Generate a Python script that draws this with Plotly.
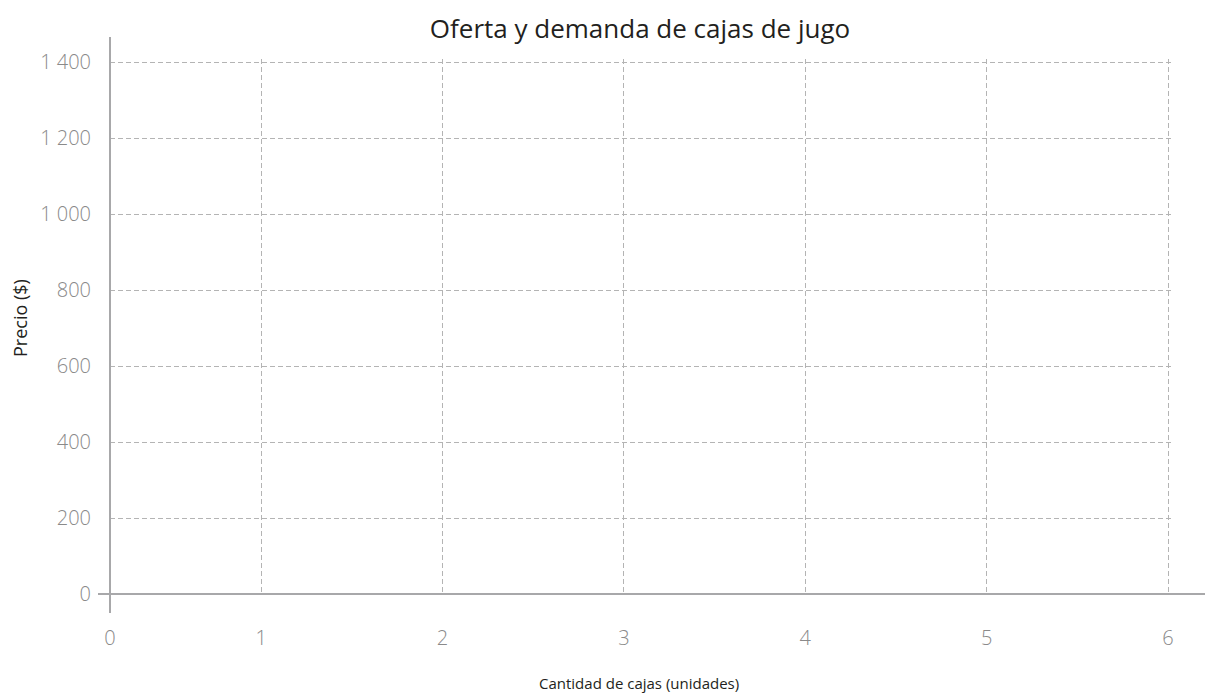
import plotly.graph_objects as go

# Data (the reference chart is an empty grid: no series plotted)
x_tick_vals = [1/6, 1, 2, 3, 4, 5, 6]
x_tick_text = ["0", "1", "2", "3", "4", "5", "6"]
y_tick_vals = [0, 200, 400, 600, 800, 1000, 1200, 1400]
y_tick_text = ["0", "200", "400", "600", "800", "1 000", "1 200", "1 400"]
title_text = "Oferta y demanda de cajas de jugo"
x_title = "Cantidad de cajas (unidades)"
y_title = "Precio ($)"

W, H = 1212, 695
# pixel positions of the data frame
X_LEFT, X_RIGHT = 110, 1168   # x = 1/6 .. 6
Y_BOTTOM, Y_TOP = 594, 62     # y = 0 .. 1400

# extend ranges slightly so edge gridlines get drawn
x_px_per = (X_RIGHT - X_LEFT) / (x_tick_vals[-1] - x_tick_vals[0])
y_px_per = (Y_BOTTOM - Y_TOP) / (y_tick_vals[-1] - y_tick_vals[0])
x_ext = 3 / x_px_per
y_ext = 3 / y_px_per

L, R = X_LEFT, W - (X_RIGHT + 3)
T, B = Y_TOP - 3, H - Y_BOTTOM
pw, ph = W - L - R, H - T - B

grid_color = "#b4b4b4"
axis_color = "#a8a8aa"
tick_color = "#8a8a8a"
text_color = "#231f20"

fig = go.Figure()
fig.add_trace(go.Scatter(x=[], y=[], mode="lines", showlegend=False))

fig.update_layout(
    width=W, height=H,
    margin=dict(l=L, r=R, t=T, b=B, pad=0, autoexpand=False),
    paper_bgcolor="white", plot_bgcolor="white",
    showlegend=False,
    title=dict(text=title_text, x=640 / W, xanchor="center",
               y=1 - 29 / H, yanchor="middle",
               font=dict(family="Open Sans", size=26, color=text_color)),
    font=dict(family="Open Sans"),
)

fig.update_xaxes(
    range=[x_tick_vals[0], x_tick_vals[-1] + x_ext],
    tickmode="array", tickvals=x_tick_vals, ticktext=x_tick_text,
    showgrid=True, gridcolor=grid_color, gridwidth=1, griddash="5px,3px",
    zeroline=False, showline=False, ticks="", automargin=False,
    ticklabelstandoff=30,
    tickfont=dict(family="Open Sans", size=20, color=tick_color, weight=300),
)
fig.update_yaxes(
    range=[y_tick_vals[0], y_tick_vals[-1] + y_ext],
    tickmode="array", tickvals=y_tick_vals, ticktext=y_tick_text,
    showgrid=True, gridcolor=grid_color, gridwidth=1, griddash="5px,3px",
    zeroline=False, showline=False, ticks="", automargin=False,
    ticklabelstandoff=18,
    tickfont=dict(family="Open Sans", size=20, color=tick_color, weight=300),
)

# Axis titles as annotations for exact placement
fig.add_annotation(text=x_title, xref="paper", yref="paper",
                   x=(639 - L) / pw, y=-(683 - (T + ph)) / ph,
                   xanchor="center", yanchor="middle", showarrow=False,
                   font=dict(family="Open Sans", size=15, color=text_color))
fig.add_annotation(text=y_title, xref="paper", yref="paper", textangle=-90,
                   x=-(L - 20) / pw, y=1 - (318 - T) / ph,
                   xanchor="center", yanchor="middle", showarrow=False,
                   font=dict(family="Open Sans", size=18, color=text_color))

# Axis lines crossing and overshooting the plot area
fig.add_shape(type="line", xref="paper", yref="paper",
              x0=-12 / pw, x1=(1205 - L) / pw, y0=0, y1=0,
              line=dict(color=axis_color, width=2))
fig.add_shape(type="line", xref="paper", yref="paper",
              x0=0, x1=0, y0=-(613 - Y_BOTTOM) / ph, y1=1 + (T - 37) / ph,
              line=dict(color=axis_color, width=2))

fig.write_html("out.html",
               config={"displayModeBar": False},
               post_script="document.body.style.margin='0';"
                           "document.body.style.overflow='hidden';")
